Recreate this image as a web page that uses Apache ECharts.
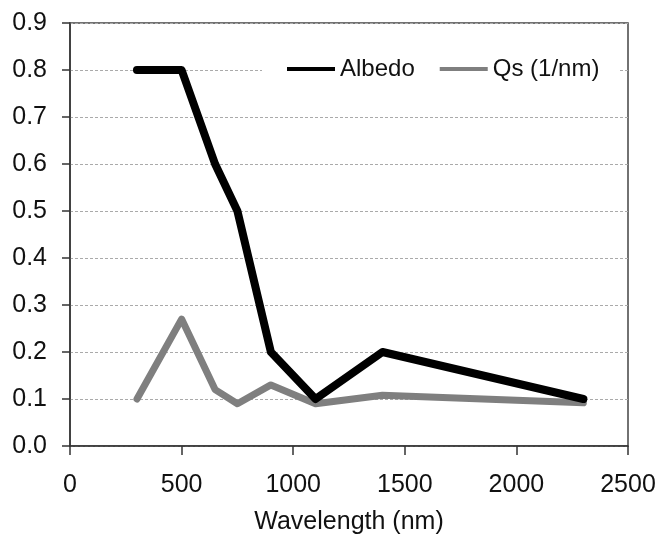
<!DOCTYPE html>
<html>
<head>
<meta charset="utf-8">
<script src="https://cdn.jsdelivr.net/npm/echarts@6/dist/echarts.min.js"></script>
<style>
  html, body { margin: 0; padding: 0; background: #fff; }
  #chart { width: 661px; height: 540px; }
</style>
</head>
<body>
<div id="chart"></div>
<script>
// data
var wavelength = [300, 500, 650, 750, 900, 1100, 1400, 2300];
var albedo = [0.8, 0.8, 0.6, 0.5, 0.2, 0.1, 0.2, 0.1];
var qs = [0.1, 0.27, 0.12, 0.09, 0.13, 0.09, 0.108, 0.092];
var seriesNames = ['Albedo', 'Qs (1/nm)'];

function pairs(xs, ys) {
    return xs.map(function (x, i) { return [x, ys[i]]; });
}

var chart = echarts.init(document.getElementById('chart'));

chart.setOption({
    animation: false,
    backgroundColor: '#fff',
    textStyle: { fontFamily: 'Liberation Sans, Arial, sans-serif' },
    grid: {
        left: 70,
        right: 33,
        top: 23,
        bottom: 87,
        show: true,
        borderColor: '#444',
        borderWidth: 1.5
    },
    legend: {
        left: 262,
        top: 53,
        itemGap: 25,
        itemWidth: 48,
        itemHeight: 4,
        icon: 'rect',
        backgroundColor: '#fff',
        padding: [4, 20, 4, 25],
        textStyle: { fontSize: 24, color: '#111', padding: [0, 0, 0, 0] },
        data: seriesNames
    },
    xAxis: {
        type: 'value',
        min: 0,
        max: 2500,
        interval: 500,
        name: 'Wavelength (nm)',
        nameLocation: 'middle',
        nameGap: 64,
        nameTextStyle: { fontSize: 25, color: '#111', verticalAlign: 'top' },
        axisLine: { lineStyle: { color: '#333', width: 1.5 } },
        axisTick: { show: true, length: 9, lineStyle: { color: '#333', width: 1.5 } },
        axisLabel: {
            fontSize: 25,
            color: '#111',
            margin: 27,
            formatter: function (v) { return String(v); }
        },
        splitLine: { show: false }
    },
    yAxis: {
        type: 'value',
        min: 0,
        max: 0.9,
        interval: 0.1,
        axisLine: { show: true, lineStyle: { color: '#333', width: 1.5 } },
        axisTick: { show: true, length: 8, lineStyle: { color: '#333', width: 1.5 } },
        axisLabel: {
            fontSize: 25,
            color: '#111',
            margin: 23,
            formatter: function (v) { return v.toFixed(1); }
        },
        splitLine: { show: true, lineStyle: { color: '#aaa', type: [3, 2], width: 1 } }
    },
    series: [
        {
            name: seriesNames[0],
            type: 'line',
            data: pairs(wavelength, albedo),
            symbol: 'none',
            color: '#000',
            lineStyle: { color: '#000', width: 8, join: 'round', cap: 'round' },
            z: 3
        },
        {
            name: seriesNames[1],
            type: 'line',
            data: pairs(wavelength, qs),
            symbol: 'none',
            color: '#7f7f7f',
            lineStyle: { color: '#7f7f7f', width: 7, join: 'round', cap: 'round' },
            z: 2
        }
    ]
});
</script>
</body>
</html>
